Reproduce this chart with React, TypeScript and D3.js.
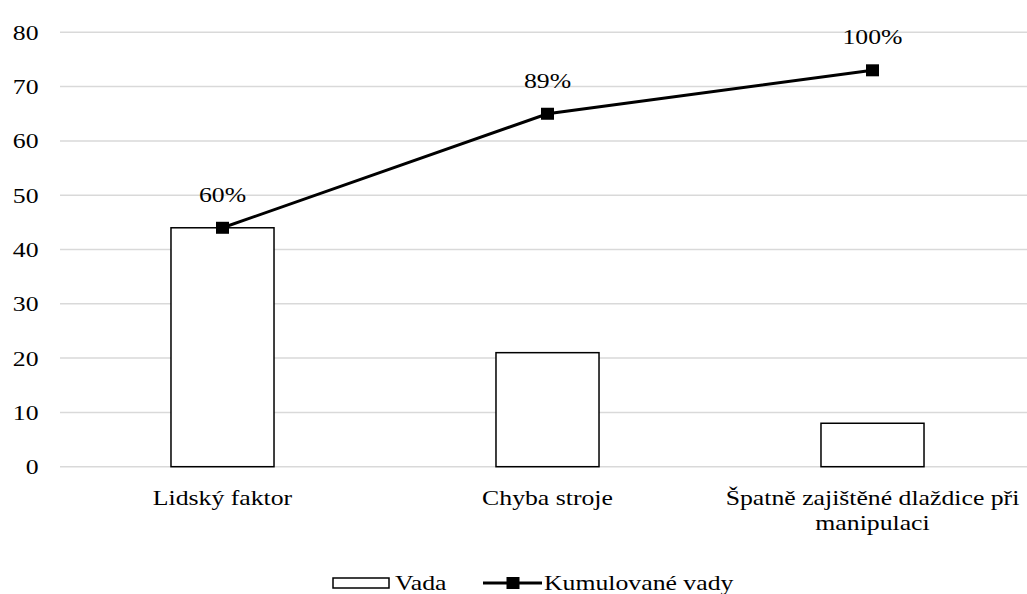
import React from "react";
import * as d3 from "d3";

const categories = ["Lidský faktor", "Chyba stroje", "Špatně zajištěné dlaždice při manipulaci"];
const categoryLines = [["Lidský faktor"], ["Chyba stroje"], ["Špatně zajištěné dlaždice při", "manipulaci"]];
const vada = [44, 21, 8];
const kumulovane = [44, 65, 73];
const percentLabels = ["60%", "89%", "100%"];
const yTicks = [0, 10, 20, 30, 40, 50, 60, 70, 80];
const legendLabels = ["Vada", "Kumulované vady"];

const W = 1027;
const H = 594;
const FONT = "Liberation Serif";
const FS = 22;
const SX = 1.17;

function T({ x, y, anchor = "start", children }: { x: number; y: number; anchor?: string; children: React.ReactNode }) {
  return (
    <text
      transform={`translate(${x},${y}) scale(${SX},1)`}
      textAnchor={anchor as any}
      fontSize={FS}
      fill="#000"
      style={{ fontFamily: FONT }}
    >
      {children}
    </text>
  );
}

export default function App() {
  const x = d3.scaleBand<string>().domain(categories).range([60, 1035]).paddingInner(0).paddingOuter(0);
  const y = d3.scaleLinear().domain([0, 80]).range([466.7, 32.3]);
  const bw = x.bandwidth();
  const barW = bw * 0.317;
  const cx = (c: string) => (x(c) as number) + bw / 2;

  const line = d3
    .line<number>()
    .x((_, i) => cx(categories[i]))
    .y((d) => y(d));

  const ms = 13;

  return (
    <svg width={W} height={H} style={{ position: "absolute", left: 0, top: 0, background: "#fff" }}>
      <rect x={0} y={0} width={W} height={H} fill="#fff" />
      {yTicks.map((t) => (
        <line key={t} x1={60} x2={1035} y1={y(t)} y2={y(t)} stroke="#d9d9d9" strokeWidth={1.5} />
      ))}
      {yTicks.map((t) => (
        <T key={t} x={38.5} y={y(t) + 7.5} anchor="end">
          {t}
        </T>
      ))}
      {categories.map((c, i) => (
        <rect
          key={c}
          x={cx(c) - barW / 2}
          y={y(vada[i])}
          width={barW}
          height={y(0) - y(vada[i])}
          fill="#fff"
          stroke="#000"
          strokeWidth={1.5}
        />
      ))}
      <path d={line(kumulovane) || ""} fill="none" stroke="#000" strokeWidth={3} />
      {kumulovane.map((v, i) => (
        <rect
          key={i}
          x={cx(categories[i]) - ms / 2}
          y={y(v) - (ms - 1) / 2}
          width={ms}
          height={ms - 1}
          fill="#000"
        />
      ))}
      {kumulovane.map((v, i) => (
        <T key={i} x={cx(categories[i])} y={y(v) - 26} anchor="middle">
          {percentLabels[i]}
        </T>
      ))}
      {categories.map((c, i) =>
        categoryLines[i].map((ln, j) => (
          <T key={c + j} x={cx(c)} y={505 + j * 25} anchor="middle">
            {ln}
          </T>
        ))
      )}
      <rect x={333} y={578} width={56} height={10} fill="#fff" stroke="#000" strokeWidth={1.5} />
      <T x={395} y={590}>
        {legendLabels[0]}
      </T>
      <line x1={483} x2={542} y1={583} y2={583} stroke="#000" strokeWidth={3} />
      <rect x={513 - ms / 2} y={583 - (ms - 1) / 2} width={ms} height={ms - 1} fill="#000" />
      <T x={544} y={590}>
        {legendLabels[1]}
      </T>
    </svg>
  );
}
